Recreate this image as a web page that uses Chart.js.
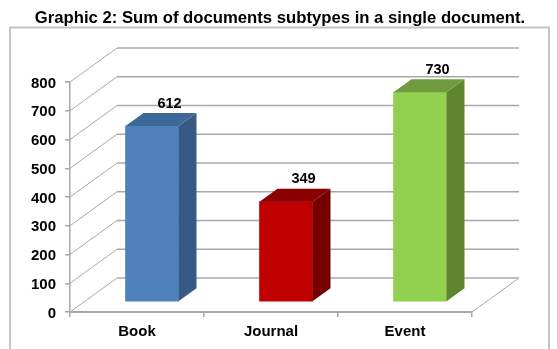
<!DOCTYPE html>
<html>
<head>
<meta charset="utf-8">
<script src="https://cdn.jsdelivr.net/npm/chart.js@4"></script>
<style>
    html, body { margin: 0; padding: 0; background: #fff; }
    #wrap { width: 557px; height: 349px; }
</style>
</head>
<body>
<div id="wrap"><canvas id="docChart" width="557" height="349"></canvas></div>
<script>
const categories = ['Book', 'Journal', 'Event'];
const totals = [612, 349, 730];
const yTicks = [0, 100, 200, 300, 400, 500, 600, 700, 800];

const frontColors = ['#4f81bd', '#c00000', '#92d050'];
const sideColors = ['#375a85', '#760000', '#5f8531'];
const topColors = ['#3e6896', '#8a0000', '#6f9a3d'];

const AXIS_COLOR = '#a8a8a8';
// depth of the back wall and of the bars
const WALL_DX = 47, WALL_DY = -34;
const BAR_DX = 18, BAR_DY = -13;
// bars stand in the middle of the floor
const FLOOR_DX = 15, FLOOR_DY = -10;

// frame, floor and back wall go under the bars
const wallPlugin = {
    id: 'wall',
    beforeDatasetsDraw(chart) {
        const ctx = chart.ctx;
        const { left, right } = chart.chartArea;
        const y = chart.scales.y;
        ctx.save();
        // the frame runs off the bottom of the canvas
        ctx.strokeStyle = '#c4c4c4';
        ctx.lineWidth = 2;
        ctx.strokeRect(10, 27.5, 539, 330);
        ctx.strokeStyle = AXIS_COLOR;
        yTicks.forEach(v => {
            const py = y.getPixelForValue(v);
            ctx.lineWidth = 1;
            ctx.beginPath();
            ctx.moveTo(left, py);
            ctx.lineTo(left + WALL_DX, py + WALL_DY);
            ctx.stroke();
            ctx.lineWidth = 1.5;
            ctx.beginPath();
            ctx.moveTo(left + WALL_DX, py + WALL_DY);
            ctx.lineTo(right + WALL_DX, py + WALL_DY);
            ctx.stroke();
        });
        // right edge of the floor
        const py0 = y.getPixelForValue(0);
        ctx.lineWidth = 1;
        ctx.beginPath();
        ctx.moveTo(right, py0);
        ctx.lineTo(right + WALL_DX, py0 + WALL_DY);
        ctx.stroke();
        ctx.restore();

        // bars are moved back onto the floor until afterDatasetsDraw
        ctx.save();
        ctx.translate(FLOOR_DX, FLOOR_DY);
    },
    afterDatasetsDraw(chart) {
        const ctx = chart.ctx;
        chart.getDatasetMeta(0).data.forEach((bar, i) => {
            const l = bar.x - bar.width / 2;
            const r = bar.x + bar.width / 2;
            // side face
            ctx.fillStyle = sideColors[i];
            ctx.beginPath();
            ctx.moveTo(r, bar.y);
            ctx.lineTo(r + BAR_DX, bar.y + BAR_DY);
            ctx.lineTo(r + BAR_DX, bar.base + BAR_DY);
            ctx.lineTo(r, bar.base);
            ctx.closePath();
            ctx.fill();
            // top face
            ctx.fillStyle = topColors[i];
            ctx.beginPath();
            ctx.moveTo(l, bar.y);
            ctx.lineTo(l + BAR_DX, bar.y + BAR_DY);
            ctx.lineTo(r + BAR_DX, bar.y + BAR_DY);
            ctx.lineTo(r, bar.y);
            ctx.closePath();
            ctx.fill();
            // value above the bar
            ctx.fillStyle = '#000';
            ctx.font = 'bold 14.5px "Liberation Sans"';
            ctx.textAlign = 'center';
            ctx.textBaseline = 'middle';
            ctx.fillText(totals[i], bar.x + BAR_DX - 0.5, bar.y + BAR_DY - 9.5);
        });
        ctx.restore();
    }
};

new Chart(document.getElementById('docChart'), {
    type: 'bar',
    data: {
        labels: categories,
        datasets: [{
            data: totals,
            backgroundColor: frontColors,
            barThickness: 53,
            borderWidth: 0
        }]
    },
    options: {
        responsive: false,
        animation: false,
        layout: { padding: { left: 3, right: 0, top: 0, bottom: 0 } },
        plugins: {
            legend: { display: false },
            tooltip: { enabled: false },
            title: {
                display: true,
                text: 'Graphic 2: Sum of documents subtypes in a single document.',
                color: '#000',
                font: { family: '"Liberation Sans"', size: 16.7, weight: 'bold', lineHeight: 1.2 },
                padding: { top: 8, bottom: 54 }
            }
        },
        scales: {
            x: {
                grid: { drawOnChartArea: false, color: AXIS_COLOR, tickLength: 5, lineWidth: 1.5 },
                border: { color: AXIS_COLOR, width: 2 },
                ticks: {
                    color: '#000',
                    padding: 6,
                    font: { family: '"Liberation Sans"', size: 15, weight: 'bold' }
                },
                afterFit(scale) { scale.height = 37; }
            },
            y: {
                min: 0,
                max: 800,
                afterBuildTicks(scale) { scale.ticks = yTicks.map(value => ({ value })); },
                grid: { drawOnChartArea: false, color: AXIS_COLOR, tickLength: 5, lineWidth: 1.5 },
                border: { color: AXIS_COLOR, width: 1.5 },
                ticks: {
                    color: '#000',
                    padding: 9,
                    labelOffset: 1.5,
                    font: { family: '"Liberation Sans"', size: 15, weight: 'bold' }
                },
                afterFit(scale) { scale.width = 67; }
            },
            // empty axis that keeps the plot clear of the right side
            spacer: {
                position: 'right',
                grid: { display: false },
                border: { display: false },
                ticks: { display: false },
                afterFit(scale) { scale.width = 85; }
            }
        }
    },
    plugins: [wallPlugin]
});
</script>
</body>
</html>
